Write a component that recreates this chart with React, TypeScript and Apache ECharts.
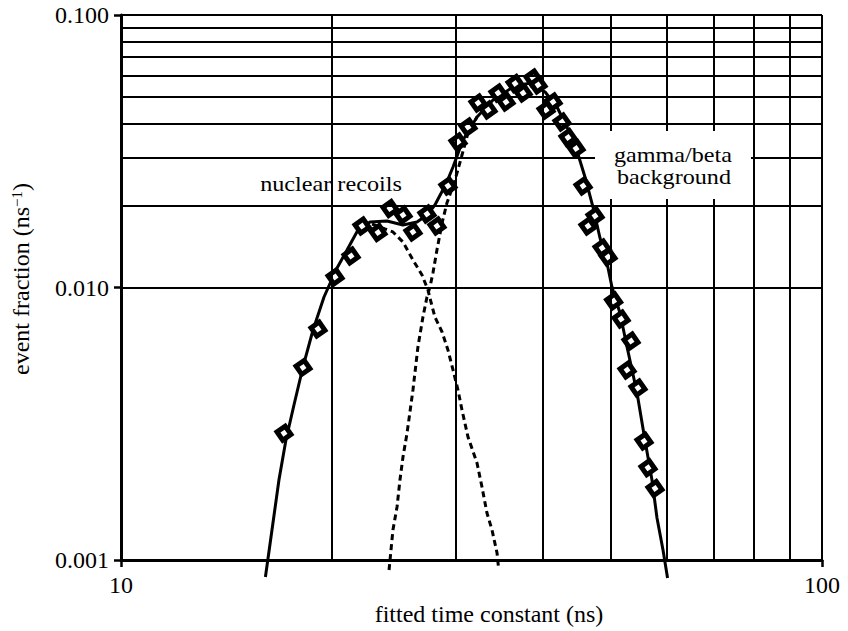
import React, { useEffect, useRef } from 'react';
import * as echarts from 'echarts';

const FONT = '"Liberation Serif", "Times New Roman", Times, serif';

// Measured data points (fitted time constant in ns, event fraction in ns^-1)
const obsTime = [17.08, 18.18, 19.1, 20.2, 21.29, 22.07, 23.26, 24.19, 25.25, 26.09, 27.32, 28.23, 29.27, 30.25, 31.26, 32.31, 33.39, 34.5, 35.42, 36.49, 37.46, 38.7, 39.35, 40.4, 41.34, 42.57, 43.42, 44.58, 45.62, 46.37, 47.45, 48.56, 49.52, 50.43, 51.69, 52.71, 53.4, 54.64, 55.73, 56.47, 57.78];
const obsFrac = [0.00292, 0.00509, 0.00704, 0.01093, 0.01305, 0.01681, 0.01591, 0.01949, 0.01845, 0.01599, 0.01861, 0.01681, 0.02358, 0.0342, 0.03881, 0.04754, 0.04481, 0.05172, 0.04794, 0.05606, 0.05172, 0.05873, 0.05536, 0.04481, 0.04794, 0.04048, 0.03552, 0.03236, 0.02358, 0.01681, 0.0183, 0.01396, 0.01294, 0.00892, 0.00766, 0.00498, 0.00636, 0.00428, 0.00273, 0.00218, 0.00183];

// Total fit (solid)
const fitTime = [16.07, 16.42, 16.8, 17.19, 17.65, 18.18, 18.79, 19.48, 20.26, 21.01, 21.78, 22.66, 23.96, 25.25, 26.44, 27.32, 28.04, 29.08, 29.76, 30.75, 32.2, 33.94, 36.25, 38.33, 40.27, 41.88, 43.27, 44.72, 45.91, 47.13, 48.23, 49.19, 50.16, 51.5, 52.71, 54.47, 55.9, 57.21, 58.16, 59.32, 60.21];
const fitTotal = [0.000866, 0.001288, 0.001966, 0.002757, 0.003706, 0.005109, 0.006983, 0.009229, 0.01159, 0.01373, 0.01626, 0.01739, 0.01754, 0.01696, 0.01739, 0.01845, 0.02008, 0.02398, 0.02769, 0.03478, 0.04222, 0.04876, 0.05443, 0.0563, 0.05218, 0.04596, 0.03881, 0.0317, 0.02544, 0.01974, 0.01519, 0.01283, 0.01004, 0.008061, 0.006049, 0.0041, 0.002757, 0.001966, 0.001426, 0.001088, 0.000859];

// Nuclear recoil component (dashed)
const nrTime = [22.81, 23.8, 24.43, 25.25, 26.09, 26.88, 27.41, 27.68, 28.04, 28.71, 29.27, 29.76, 30.25, 30.65, 31.26, 32.2, 32.73, 33.27, 33.83, 34.39, 34.56];
const nrFrac = [0.0171, 0.0164, 0.01599, 0.01469, 0.01262, 0.01111, 0.00979, 0.008847, 0.007794, 0.006866, 0.005897, 0.004981, 0.004206, 0.003552, 0.002828, 0.00227, 0.001853, 0.001488, 0.001288, 0.001061, 0.000935];

// Gamma/beta background component (dashed, rising edge)
const gbTime = [24.12, 24.43, 24.76, 25.0, 25.25, 25.59, 26.09, 26.52, 26.96, 27.32, 27.59, 27.86, 28.23, 28.71, 29.17, 29.96, 30.65, 31.26, 32.2];
const gbFrac = [0.000919, 0.001288, 0.001565, 0.001966, 0.002388, 0.002924, 0.004206, 0.006049, 0.007794, 0.009229, 0.01004, 0.0113, 0.01373, 0.01725, 0.02042, 0.0248, 0.03063, 0.0369, 0.04222];

// Grid lines
const gridTimes = [20, 30, 40, 50, 60, 70, 80, 90, 100];
const gridFracs = [0.002, 0.003, 0.004, 0.005, 0.006, 0.007, 0.008, 0.009, 0.01, 0.02, 0.03, 0.04, 0.05, 0.06, 0.07, 0.08, 0.09, 0.1];

// Tick labels
const xTickLabels = ['10', '100'];
const yTickLabels = ['0.001', '0.010', '0.100'];

const zip = (a: number[], b: number[]) => a.map((v, i) => [v, b[i]]);

export default function App() {
  const ref = useRef<HTMLDivElement>(null);
  useEffect(() => {
    const chart = echarts.init(ref.current!, null, { renderer: 'svg' });
    const axisCommon = {
      type: 'log',
      logBase: 10,
      axisLine: { show: true, onZero: false, lineStyle: { color: '#000', width: 3 } },
      axisTick: { show: true, length: 7, lineStyle: { color: '#000', width: 2.5 } },
      minorTick: { show: false },
      splitLine: { show: false },
      minorSplitLine: { show: false },
    };
    const option = {
      animation: false,
      backgroundColor: '#fff',
      grid: { left: 121, right: 26, top: 15, bottom: 71, containLabel: false },
      xAxis: {
        ...axisCommon,
        min: 10,
        max: 100,
        axisLabel: {
          color: '#000',
          fontFamily: FONT,
          fontSize: 24,
          margin: 13,
          formatter: (v: number) => xTickLabels[Math.round(Math.log10(v)) - 1] ?? '',
        },
        name: 'fitted time constant (ns)',
        nameLocation: 'middle',
        nameGap: 39,
        nameTextStyle: { color: '#000', fontFamily: FONT, fontSize: 24, padding: [0, 0, 0, 35] },
      },
      yAxis: {
        ...axisCommon,
        min: 0.001,
        max: 0.1,
        axisLabel: {
          color: '#000',
          fontFamily: FONT,
          fontSize: 24,
          margin: 12,
          formatter: (v: number) => yTickLabels[Math.round(Math.log10(v)) + 3] ?? '',
        },
        name: 'event fraction (ns{sup|\u22121})',
        nameLocation: 'middle',
        nameGap: 88,
        nameTextStyle: {
          color: '#000',
          fontFamily: FONT,
          fontSize: 24,
          padding: [0, 0, 0, 17],
          rich: { sup: { fontSize: 15, fontFamily: FONT, color: '#000', verticalAlign: 'top' } },
        },
      },
      graphic: [
        {
          type: 'text',
          x: 331,
          y: 183,
          scaleX: 1.1,
          z: 100,
          style: { text: 'nuclear recoils', fontFamily: FONT, fontSize: 22, fill: '#000', align: 'center', verticalAlign: 'middle' },
        },
        {
          type: 'rect',
          z: 100,
          shape: { x: 595, y: 131, width: 156, height: 68 },
          style: { fill: '#fff' },
        },
        {
          type: 'text',
          x: 673,
          y: 155,
          scaleX: 1.15,
          z: 101,
          style: { text: 'gamma/beta', fontFamily: FONT, fontSize: 21, fill: '#000', align: 'center', verticalAlign: 'middle' },
        },
        {
          type: 'text',
          x: 674,
          y: 177,
          scaleX: 1.15,
          z: 101,
          style: { text: 'background', fontFamily: FONT, fontSize: 21, fill: '#000', align: 'center', verticalAlign: 'middle' },
        },
      ],
      series: [
        {
          type: 'line',
          data: [[10, 0.001]],
          symbol: 'none',
          lineStyle: { opacity: 0 },
          z: 1,
          silent: true,
          markLine: {
            silent: true,
            symbol: ['none', 'none'],
            label: { show: false },
            lineStyle: { color: '#000', width: 2, type: 'solid' },
            emphasis: { disabled: true },
            data: [
              ...gridTimes.map((v) => ({ xAxis: v })),
              ...gridFracs.map((v) => ({ yAxis: v })),
            ],
          },
        },
        {
          type: 'line',
          data: zip(gbTime, gbFrac),
          symbol: 'none',
          clip: false,
          z: 2,
          lineStyle: { color: '#000', width: 3, type: [6, 4] },
        },
        {
          type: 'line',
          data: zip(nrTime, nrFrac),
          symbol: 'none',
          clip: false,
          z: 2,
          lineStyle: { color: '#000', width: 3, type: [6, 4] },
        },
        {
          type: 'line',
          data: zip(fitTime, fitTotal),
          symbol: 'none',
          clip: false,
          z: 3,
          lineStyle: { color: '#000', width: 3 },
        },
        {
          type: 'scatter',
          data: zip(obsTime, obsFrac),
          symbol: 'rect',
          symbolSize: 10,
          symbolRotate: 35,
          z: 4,
          itemStyle: { color: '#fff', borderColor: '#000', borderWidth: 5, opacity: 1 },
        },
      ],
    };
    chart.setOption(option as any);
    return () => chart.dispose();
  }, []);
  return (
    <div
      ref={ref}
      style={{ position: 'fixed', left: 0, top: 0, width: 848, height: 631, background: '#fff' }}
    />
  );
}
